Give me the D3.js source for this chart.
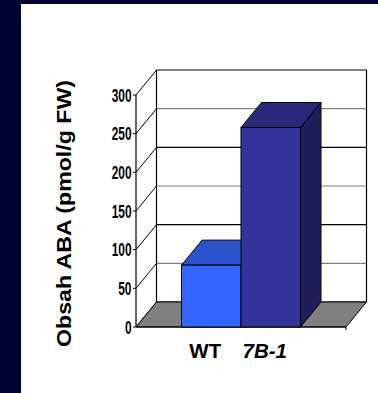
<!DOCTYPE html>
<html>
<head>
<meta charset="utf-8">
<script src="https://cdn.jsdelivr.net/npm/d3@7"></script>
<style>
  html, body { margin: 0; padding: 0; background: #000033; }
  svg { display: block; }
</style>
</head>
<body>
<svg id="chart" width="378" height="393"></svg>
<script>
const categories = ["WT", "7B-1"];
const values = [80, 258];
const tickValues = [0, 50, 100, 150, 200, 250, 300];
const tickLabels = ["0", "50", "100", "150", "200", "250", "300"];
const frontColors = ["#3366FF", "#333399"];
const topColors = ["#2A52CC", "#29297C"];
const sideColors = ["#1F3D99", "#1E1E58"];
const yTitle = "Obsah ABA (pmol/g FW)";

const svg = d3.select("#chart");
const W = 378, H = 393;

// navy background + white panel
svg.append("rect").attr("x", 0).attr("y", 0).attr("width", W).attr("height", H).attr("fill", "#000033");
svg.append("rect").attr("x", 21).attr("y", 4).attr("width", W - 21).attr("height", H - 4)
  .attr("fill", "#ffffff");

const x0 = 136, x1 = 346, yBase = 327, yTopPx = 95;
const dX = 20.5, dY = 25;

const y = d3.scaleLinear().domain([0, 300]).range([yBase, yTopPx]);
const xb = d3.scaleBand().domain(categories).range([x0, x1]).paddingInner(0).paddingOuter(0.765);
const bw = xb.bandwidth();

const g = svg.append("g");

// back wall gridlines
g.selectAll(".bgrid").data(tickValues).enter().append("line")
  .attr("x1", x0 + dX).attr("x2", x1 + dX)
  .attr("y1", d => y(d) - dY).attr("y2", d => y(d) - dY)
  .attr("stroke", d => d % 100 === 0 ? "#000" : "#808080")
  .attr("stroke-width", 1.1);

// left wall depth lines
g.selectAll(".lgrid").data(tickValues).enter().append("line")
  .attr("x1", x0).attr("y1", d => y(d))
  .attr("x2", x0 + dX).attr("y2", d => y(d) - dY)
  .attr("stroke", "#000").attr("stroke-width", 1);

// back wall verticals
[x0 + dX, x1 + dX].forEach(xx => {
  g.append("line").attr("x1", xx).attr("x2", xx)
    .attr("y1", y(300) - dY).attr("y2", y(0) - dY)
    .attr("stroke", "#000").attr("stroke-width", 1.2);
});

// floor
g.append("polygon")
  .attr("points", [[x0, y(0)], [x0 + dX, y(0) - dY], [x1 + dX, y(0) - dY], [x1, y(0)]].map(p => p.join(",")).join(" "))
  .attr("fill", "#808080").attr("stroke", "#000").attr("stroke-width", 1);

// front value axis
g.append("line").attr("x1", x0).attr("x2", x0).attr("y1", y(300)).attr("y2", y(0))
  .attr("stroke", "#000").attr("stroke-width", 1.2);
g.selectAll(".tick").data(tickValues).enter().append("line")
  .attr("x1", x0 - 3).attr("x2", x0).attr("y1", d => y(d)).attr("y2", d => y(d))
  .attr("stroke", "#000");
g.append("line").attr("x1", x0).attr("x2", x1).attr("y1", y(0)).attr("y2", y(0))
  .attr("stroke", "#000").attr("stroke-width", 1.2);
g.append("line").attr("x1", x1).attr("x2", x1).attr("y1", y(0)).attr("y2", y(0) + 3)
  .attr("stroke", "#000");

// tick labels (condensed bold)
g.selectAll(".tl").data(tickValues).enter().append("text")
  .attr("transform", d => `translate(131.5,${y(d)}) scale(0.64,1)`)
  .attr("dy", "0.36em")
  .attr("text-anchor", "end")
  .attr("font-family", "'Liberation Sans', Arial, sans-serif")
  .attr("font-weight", "bold")
  .attr("font-size", "18.6px")
  .attr("fill", "#000")
  .text((d, i) => tickLabels[i]);

// bars
categories.forEach((c, i) => {
  const bx = xb(c), yv = y(values[i]), yb = y(0);
  const bar = g.append("g");
  bar.append("polygon")
    .attr("points", [[bx + bw, yv], [bx + bw + dX, yv - dY], [bx + bw + dX, yb - dY], [bx + bw, yb]].map(p => p.join(",")).join(" "))
    .attr("fill", sideColors[i]).attr("stroke", "#000").attr("stroke-width", 1);
  bar.append("polygon")
    .attr("points", [[bx, yv], [bx + dX, yv - dY], [bx + bw + dX, yv - dY], [bx + bw, yv]].map(p => p.join(",")).join(" "))
    .attr("fill", topColors[i]).attr("stroke", "#000").attr("stroke-width", 1);
  bar.append("rect")
    .attr("x", bx).attr("y", yv).attr("width", bw).attr("height", yb - yv)
    .attr("fill", frontColors[i]).attr("stroke", "#000").attr("stroke-width", 1);
});

// category labels
g.selectAll(".cl").data(categories).enter().append("text")
  .attr("x", d => xb(d) + bw / 2 - 6)
  .attr("y", 358)
  .attr("text-anchor", "middle")
  .attr("font-family", "'Liberation Sans', Arial, sans-serif")
  .attr("font-weight", "bold")
  .attr("font-style", (d, i) => i === 1 ? "italic" : "normal")
  .attr("font-size", "20.5px")
  .attr("fill", "#000")
  .text(d => d);

// y title
svg.append("text")
  .attr("transform", "translate(71,213.5) rotate(-90)")
  .attr("text-anchor", "middle")
  .attr("font-family", "'Liberation Sans', Arial, sans-serif")
  .attr("font-weight", "bold")
  .attr("font-size", "20px")
  .attr("textLength", 267)
  .attr("lengthAdjust", "spacingAndGlyphs")
  .attr("fill", "#000")
  .text(yTitle);
</script>
</body>
</html>
